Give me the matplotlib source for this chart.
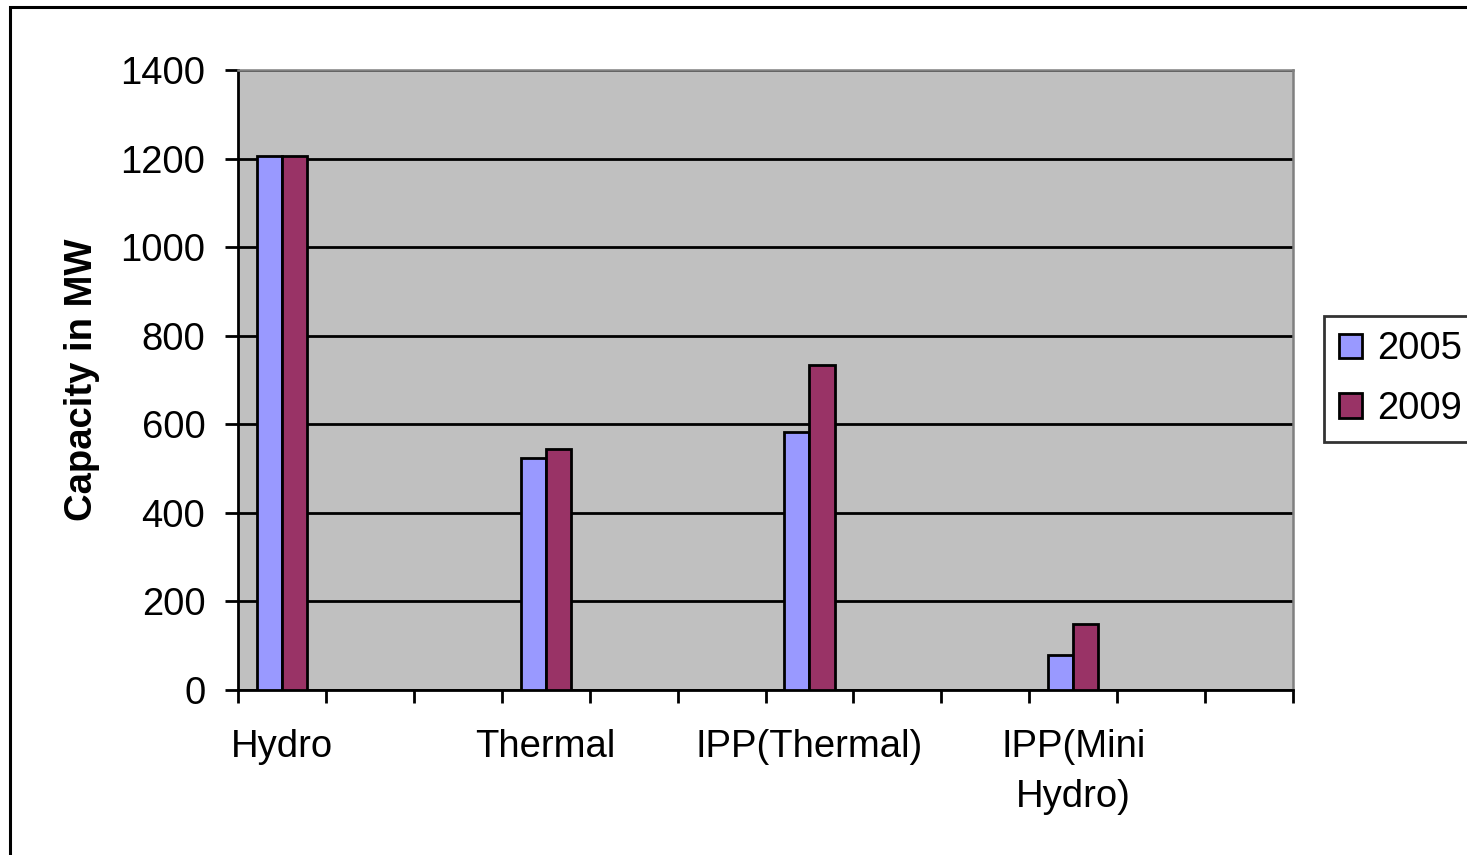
import numpy as np
import matplotlib
matplotlib.use('Agg')
import matplotlib.pyplot as plt
from matplotlib.patches import Rectangle

plt.rcParams['font.family'] = ['Liberation Sans', 'DejaVu Sans']

# ----- data (12 category slots, blanks between the real ones)
categories = ['Hydro', '', '', 'Thermal', '', '', 'IPP(Thermal)', '', '',
              'IPP(Mini\nHydro)', '', '']
cap_2005 = [1206, np.nan, np.nan, 523, np.nan, np.nan, 583, np.nan, np.nan, 78, np.nan, np.nan]
cap_2009 = [1206, np.nan, np.nan, 544, np.nan, np.nan, 734, np.nan, np.nan, 149, np.nan, np.nan]
years = ['2005', '2009']
yticks = [0, 200, 400, 600, 800, 1000, 1200, 1400]

W, H = 1467, 855
FS = 27.5
fig = plt.figure(figsize=(W / 100, H / 100), dpi=100)
fig.patch.set_facecolor('white')

# chart area border (runs off the right and bottom edge)
fig.patches.append(Rectangle((10 / W, -0.1), 2.0, 1 - 7 / H + 0.1,
                             transform=fig.transFigure, fill=False,
                             edgecolor='black', linewidth=2.2, zorder=0))

ax = fig.add_axes([238 / W, 1 - 690 / H, (1293 - 238) / W, (690 - 70) / H])
ax.set_facecolor('#C0C0C0')

x = np.arange(len(categories))
w = 1 / 3.5
ax.bar(x - w / 2, cap_2005, w, color='#9999FF', edgecolor='black',
       linewidth=2.0, label=years[0], zorder=3)
ax.bar(x + w / 2, cap_2009, w, color='#993366', edgecolor='black',
       linewidth=2.0, label=years[1], zorder=3)

ax.set_xlim(-0.5, len(categories) - 0.5)
ax.set_ylim(0, 1400)
ax.set_yticks(yticks)
ax.yaxis.grid(True, color='black', linewidth=2.0, zorder=1)
ax.set_axisbelow(True)

# ticks on category boundaries, labels at category centres
ax.set_xticks(np.arange(len(categories) + 1) - 0.5)
ax.set_xticklabels([])
ax.set_xticks(x, minor=True)
ax.set_xticklabels(categories, minor=True, fontsize=FS, linespacing=1.5)
ax.tick_params(axis='x', which='major', direction='out', length=9.5,
               width=2.0, color='black')
ax.tick_params(axis='x', which='minor', length=0, pad=28)
ax.tick_params(axis='y', direction='out', length=9.5, width=2.0,
               labelsize=FS, pad=14)

for side in ['left', 'bottom']:
    ax.spines[side].set_color('black')
    ax.spines[side].set_linewidth(2.0)
for side in ['top', 'right']:
    ax.spines[side].set_color('#808080')
    ax.spines[side].set_linewidth(1.8)

ax.set_ylabel('Capacity in MW', fontsize=FS, fontweight='bold')
ax.yaxis.set_label_coords((100 - 238) / (1293 - 238), 0.5)

leg = fig.legend(loc='center left', bbox_to_anchor=(1324 / W, 1 - 379 / H),
                 fontsize=FS, frameon=True, fancybox=False,
                 handlelength=0.6, handleheight=0.6, handletextpad=0.4,
                 borderpad=0.4, labelspacing=0.62, borderaxespad=0)
leg.get_frame().set_edgecolor('black')
leg.get_frame().set_linewidth(2.0)

fig.savefig('out.png', dpi=100)
